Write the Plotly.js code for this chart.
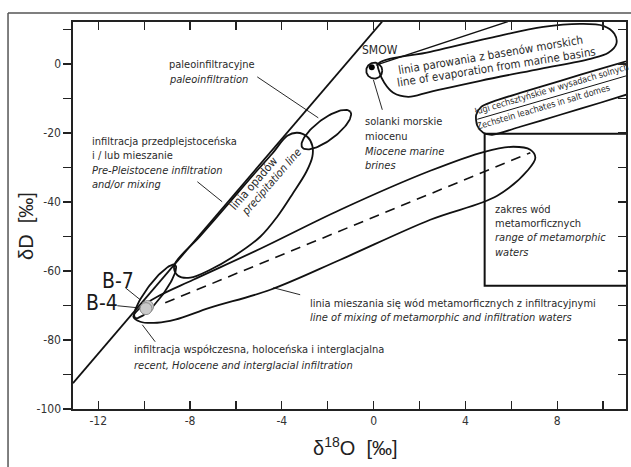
<!DOCTYPE html>
<html><head><meta charset="utf-8">
<script src="https://cdn.plot.ly/plotly-3.0.1.min.js"></script>
<style>html,body{margin:0;padding:0;background:#fff}#chart{width:631px;height:467px}</style>
</head><body><div id="chart"></div>
<script>
// ---- axes ----
const xTickVals = [-12,-8,-4,0,4,8];
const xTickText = ['-12','-8','-4','0','4','8'];
const xMinorVals = [-10,-6,-2,2,6,10];
const yTickVals = [-100,-80,-60,-40,-20,0];
const yTickText = ['-100','-80','-60','-40','-20','0'];
const yMinorVals = [-90,-70,-50,-30,-10,10];

// ---- meteoric (precipitation) line ----
const meteoricX = [-13.1, 0.37];
const meteoricY = [-92.5, 12.3];

// ---- ellipses: recent infiltration, paleoinfiltration, Miocene brines ----
const ellipseCX = [-9.52, -2.06, 0.03];
const ellipseCY = [-65.9, -19.0, -1.9];
const ellipseUX = [0.872, 1.046, 0.349];
const ellipseUY = [7.68, 5.217, 0];
const ellipseVX = [0.279, 0.275, 0];
const ellipseVY = [-1.39, -2.435, 2.32];

// ---- mixing envelope ----
const mixX = [-10.47,-10.17,-9.43,-7.86,-4.94,-1.45,2.47,4.83,6.09,6.83,7.05,6.74,5.39,2.47,-1.45,-4.50,-7.12,-8.65,-9.43,-10.17,-10.47];
const mixY = [-73.25,-70.64,-67.45,-62.52,-53.54,-42.23,-30.93,-25.42,-23.97,-24.84,-27.16,-30.64,-38.17,-45.13,-56.72,-65.42,-70.64,-74.12,-75.0,-74.7,-73.25];
// dashed mixing line
const mixLineX = [-9.08, 6.83];
const mixLineY = [-69.2, -25.7];

// ---- pre-Pleistocene infiltration field ----
const preX = [-8.69,-7.56,-6.25,-5.16,-4.42,-3.76,-3.33,-2.89,-2.67,-2.67,-2.93,-3.50,-4.20,-4.94,-6.12,-7.12,-7.99,-8.52,-8.69];
const preY = [-58.45,-49.91,-39.91,-31.51,-26.0,-20.78,-19.91,-21.07,-23.68,-26.87,-31.22,-37.3,-44.26,-50.06,-55.86,-59.62,-61.94,-61.36,-58.45];

// ---- evaporation field ----
const evapX = [0.205,2.472,5.087,7.398,9.011,10.014,10.493,10.580,10.231,9.447,7.267,4.651,2.470,1.511,0.858,0.466,0.248,0.205];
const evapY = [0.09,3.57,7.62,10.81,11.68,11.10,8.78,5.88,3.28,1.54,-1.36,-4.84,-8.03,-9.48,-8.32,-5.42,-2.23,0.09];
const evapLineX = [0.1, 5.85];
const evapLineY = [-0.3, 12.3];

// ---- Zechstein salt dome leachates ----
const saltX = [11.84,9.88,8.14,6.39,5.17,4.69,4.47,4.52,4.78,5.17,6.39,8.14,9.88,11.84];
const saltY = [2.41,-1.36,-4.84,-8.35,-10.96,-12.42,-14.72,-17.88,-19.91,-20.49,-18.17,-14.69,-11.21,-7.16];
const saltSepX = [4.52, 11.84];
const saltSepY = [-16.0, -1.8];

// ---- metamorphic waters box ----
const boxX = [11.5, 4.84, 4.84, 11.5];
const boxY = [-20.2, -20.2, -64.3, -64.3];

// ---- SMOW and samples ----
const smowX = [-0.08];
const smowY = [-0.9];
const sampleNames = ['B-7','B-4'];
const sampleX = [-9.85, -9.92];
const sampleY = [-70.3, -70.9];

// ---- leader lines (pairs separated by null) ----
const leaderX = [-5.07,-2.41,null,-7.68,-6.60,null,-0.01,0.38,null,-4.37,-3.20,null,-10.08,-9.52,null,-10.82,-10.17,null,-11.17,-10.30];
const leaderY = [-3.71,-15.59,null,-34.11,-39.91,null,-4.55,-13.25,null,-64.84,-66.87,null,-75.58,-80.49,null,-64.84,-68.32,null,-70.06,-70.64];

// ---- labels ----
const labelText = [
  'paleoinfiltracyjne','<i>paleoinfiltration</i>',
  'infiltracja przedplejstoceńska','i / lub mieszanie','<i>Pre-Pleistocene infiltration</i>','<i>and/or mixing</i>',
  'solanki morskie','miocenu','<i>Miocene marine</i>','<i>brines</i>',
  'zakres wód','metamorficznych','<i>range of metamorphic</i>','<i>waters</i>',
  'linia mieszania się wód metamorficznych z infiltracyjnymi','<i>line of mixing of metamorphic and infiltration waters</i>',
  'infiltracja współczesna, holoceńska i interglacjalna','<i>recent, Holocene and interglacial infiltration</i>'
];
const labelX = [-9.0,-9.0, -12.35,-12.35,-12.35,-12.35, -0.449,-0.449,-0.449,-0.449, 5.218,5.218,5.218,5.218, -2.847,-2.847, -10.519,-10.519];
const labelY = [-0.2,-4.55, -22.52,-26.58,-30.93,-34.99, -16.72,-21.07,-25.42,-29.48, -42.23,-46.29,-50.35,-54.70, -69.48,-73.54, -82.81,-87.45];

const rotText = ['linia opadów','<i>precipitation line</i>','linia parowania z basenów morskich','line of evaporation from marine basins','ługi cechsztyńskie w wysadach solnych','Zechstein leachates in salt domes'];
const rotX = [-5.21,-4.47,5.087,5.349,7.790,7.398];
const rotY = [-34.6,-34.2,2.70,-0.93,-7.3,-12.38];
const rotAngle = [-49,-49,-9.5,-9,-16.5,-16.5];
const rotSize = [11.5,11,11.5,11.5,9,9];

const sampleLabelX = [-11.151, -11.827];
const sampleLabelY = [-62.96, -69.33];

const NARROW = '"DejaVu Sans Condensed", "Liberation Sans Narrow", sans-serif';
const SANS = '"Liberation Sans", Arial, sans-serif';
const INK = '#111';
const TXT = '#2a2a2a';

function ellipse(i){
  const xs=[], ys=[];
  for(let k=0;k<=90;k++){
    const t=k/90*2*Math.PI;
    xs.push(ellipseCX[i]+ellipseUX[i]*Math.cos(t)+ellipseVX[i]*Math.sin(t));
    ys.push(ellipseCY[i]+ellipseUY[i]*Math.cos(t)+ellipseVY[i]*Math.sin(t));
  }
  return {x:xs,y:ys};
}
function lineTrace(x,y,w,extra){
  return Object.assign({type:'scatter',mode:'lines',x:x,y:y,line:{color:INK,width:w},hoverinfo:'skip',showlegend:false},extra||{});
}

const traces = [];
traces.push(lineTrace(meteoricX, meteoricY, 1.8));
traces.push(lineTrace(preX, preY, 1.8, {line:{color:INK,width:1.8,shape:'spline',smoothing:1}}));
traces.push(lineTrace(mixX, mixY, 1.8, {line:{color:INK,width:1.8,shape:'spline',smoothing:1}}));
traces.push(lineTrace(mixLineX, mixLineY, 1.6, {line:{color:INK,width:1.6,dash:'10px,7px'}}));
for(let i=0;i<ellipseCX.length;i++){ const e=ellipse(i); traces.push(lineTrace(e.x,e.y,1.8)); }
traces.push(lineTrace(evapX, evapY, 1.8, {line:{color:INK,width:1.8,shape:'spline',smoothing:1}}));
traces.push(lineTrace(evapLineX, evapLineY, 1.5));
traces.push(lineTrace(saltX, saltY, 1.8, {line:{color:INK,width:1.8,shape:'spline',smoothing:0.8}}));
traces.push(lineTrace(saltSepX, saltSepY, 1.0));
traces.push(lineTrace(boxX, boxY, 2.0));
traces.push(lineTrace(leaderX, leaderY, 0.9, {connectgaps:false}));
traces.push({type:'scatter',mode:'markers',x:sampleX,y:sampleY,text:sampleNames,
  marker:{size:12,color:'#c9c9c9',line:{color:'#8a8a8a',width:1}},hoverinfo:'text',showlegend:false});
traces.push({type:'scatter',mode:'markers',x:smowX,y:smowY,marker:{size:6,color:'#000'},hoverinfo:'skip',showlegend:false});
traces.push({type:'scatter',mode:'markers',x:smowX,y:smowY,yaxis:'y2',marker:{opacity:0},hoverinfo:'skip',showlegend:false});

const annotations = [];
for(let i=0;i<labelText.length;i++){
  annotations.push({x:labelX[i],y:labelY[i],xref:'x',yref:'y',text:labelText[i],showarrow:false,
    xanchor:'left',yanchor:'middle',font:{family:NARROW,size:11,color:TXT}});
}
for(let i=0;i<rotText.length;i++){
  annotations.push({x:rotX[i],y:rotY[i],xref:'x',yref:'y',text:rotText[i],showarrow:false,textangle:rotAngle[i],
    xanchor:'center',yanchor:'middle',font:{family:NARROW,size:rotSize[i],color:TXT}});
}
annotations.push({x:0.292,y:4.14,xref:'x',yref:'y',text:'SMOW',showarrow:false,xanchor:'center',yanchor:'middle',font:{family:NARROW,size:12,color:TXT}});
for(let i=0;i<sampleNames.length;i++){
  annotations.push({x:sampleLabelX[i],y:sampleLabelY[i],xref:'x',yref:'y',text:sampleNames[i],showarrow:false,
    xanchor:'center',yanchor:'middle',font:{family:NARROW,size:21,color:'#1a1a1a'}});
}
annotations.push({x:0.511,y:-0.097,xref:'paper',yref:'paper',text:'δ<sup>18</sup>O\u00a0\u00a0[‰]',showarrow:false,
  xanchor:'center',yanchor:'middle',font:{family:SANS,size:20,color:'#222'}});
annotations.push({x:-0.085,y:0.473,xref:'paper',yref:'paper',text:'δD\u00a0\u00a0[‰]',showarrow:false,textangle:-90,
  xanchor:'center',yanchor:'middle',font:{family:SANS,size:20,color:'#222'}});

const axisCommon = {showgrid:false,zeroline:false,showline:true,linecolor:'#222',linewidth:1.6,
  tickcolor:'#222',tickwidth:1.2,ticklen:8,fixedrange:true,
  tickfont:{family:NARROW,size:12,color:'#333'}};

const layout = {
  width:631,height:467,margin:{l:73,r:5,t:22,b:58},
  paper_bgcolor:'#fff',plot_bgcolor:'#fff',showlegend:false,
  xaxis:Object.assign({},axisCommon,{range:[-13.1,11.0],tickmode:'array',tickvals:xTickVals,ticktext:xTickText,ticks:'inside',mirror:'ticks',
    minor:{tickvals:xMinorVals,ticks:'inside',ticklen:8,tickwidth:1.2,tickcolor:'#222',showgrid:false}}),
  yaxis:Object.assign({},axisCommon,{range:[-100,12.2],tickmode:'array',tickvals:yTickVals,ticktext:yTickText,ticks:'outside',mirror:false,
    minor:{tickvals:yMinorVals,ticks:'outside',ticklen:8,tickwidth:1.2,tickcolor:'#222',showgrid:false}}),
  yaxis2:Object.assign({},axisCommon,{range:[-100,12.2],tickmode:'array',tickvals:yTickVals,ticks:'inside',overlaying:'y',side:'right',showticklabels:false,
    minor:{tickvals:yMinorVals,ticks:'inside',ticklen:8,tickwidth:1.2,tickcolor:'#222',showgrid:false}}),
  annotations:annotations,
  shapes:[
    {type:'line',xref:'paper',yref:'paper',x0:-0.1175,x1:-0.1175,y0:1.0233,y1:-0.2,line:{color:'#555',width:1.5}},
    {type:'line',xref:'paper',yref:'paper',x0:-0.1175,x1:1.02,y0:1.0233,y1:1.0233,line:{color:'#555',width:1.5}}
  ]
};
Plotly.newPlot('chart',traces,layout,{displayModeBar:false,staticPlot:true});
</script></body></html>
